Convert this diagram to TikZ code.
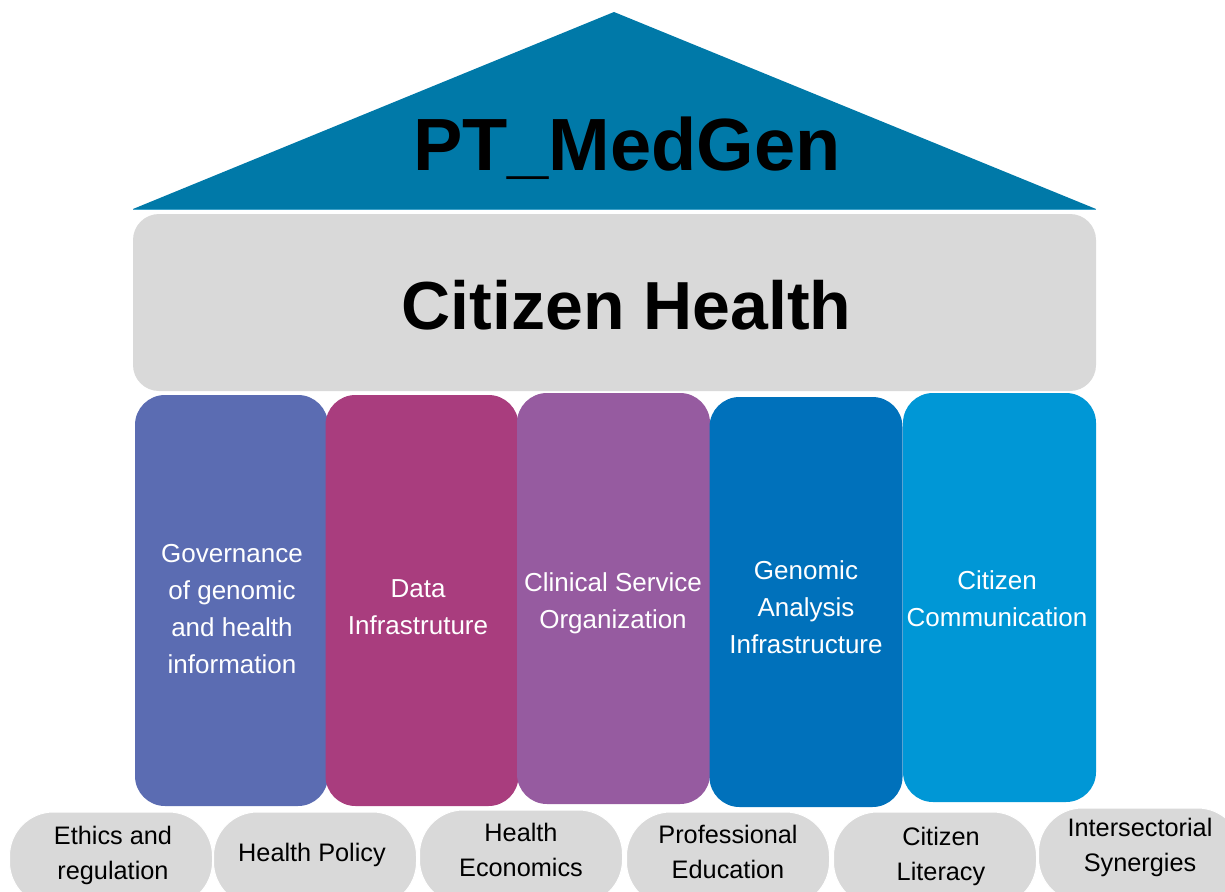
\documentclass[tikz,border=0pt]{standalone}
\usepackage{fontspec}
\setmainfont{Liberation Sans}
\definecolor{roofblue}{RGB}{0,121,168}
\definecolor{roofline}{RGB}{60,160,200}
\definecolor{greybox}{RGB}{217,217,217}
\definecolor{pA}{RGB}{91,108,178}
\definecolor{pB}{RGB}{169,61,126}
\definecolor{pC}{RGB}{150,91,160}
\definecolor{pD}{RGB}{0,113,187}
\definecolor{pE}{RGB}{0,151,214}
\tikzset{
  pillar/.style={rectangle, rounded corners=30pt, inner sep=0pt, draw=none, minimum width=193pt},
  ptext/.style={text=white, align=center, font=\fontsize{26}{37}\selectfont, inner sep=0pt},
  basebox/.style={rectangle, rounded corners=44pt, fill=greybox, draw=white, line width=1pt, inner sep=0pt, minimum width=203pt, minimum height=94pt},
  btext/.style={text=black, align=center, font=\fontsize{25.3}{35}\selectfont, inner sep=0pt},
}
\begin{document}
\begin{tikzpicture}[x=1pt,y=-1pt]
\useasboundingbox (0,0) rectangle (1225,891);
\begin{scope}
\clip (0,0) rectangle (1225,891);
% roof
\coordinate (apex) at (614,12);
\coordinate (bl) at (133,209);
\coordinate (br) at (1096,209);
\fill[roofblue] (apex) -- (br) -- (bl) -- cycle;
\draw[roofline, line width=1pt] (bl) -- (br);
\node[font=\bfseries\fontsize{74}{80}\selectfont, inner sep=0pt] (title) at (627,148) {PT\_MedGen};
% beam
\node[rectangle, rounded corners=26pt, fill=greybox, minimum width=963pt, minimum height=177pt, inner sep=0pt] (beam) at (614.5,302.5) {};
\node[font=\bfseries\fontsize{68}{74}\selectfont, inner sep=0pt] (ch) at (626.5,305) {Citizen Health};
% pillars
\node[pillar, fill=pA, minimum height=411pt] (p1) at (231.5,600.5) {};
\node[pillar, fill=pB, minimum height=411pt] (p2) at (422,600.5) {};
\node[pillar, fill=pC, minimum height=411pt] (p3) at (613.5,598.5) {};
\node[pillar, fill=pD, minimum height=410pt] (p4) at (806,602) {};
\node[pillar, fill=pE, minimum height=409pt] (p5) at (999.5,597.5) {};
\node[ptext] (t1) at (232,609) {Governance\\of genomic\\and health\\information};
\node[ptext] (t2) at (418,607) {Data\\Infrastruture};
\node[ptext] (t3) at (613,603) {Clinical Service\\Organization};
\node[ptext] (t4) at (806,607) {Genomic\\Analysis\\Infrastructure};
\node[ptext] (t5) at (997,599) {Citizen\\Communication};
% foundation
\node[basebox] (b1) at (111,859) {};
\node[basebox] (b2) at (315,859) {};
\node[basebox] (b3) at (521,857) {};
\node[basebox] (b4) at (728,859) {};
\node[basebox] (b5) at (935,859) {};
\node[basebox] (b6) at (1140,855) {};
\node[btext] (bt1) at (113,855) {Ethics and\\regulation};
\node[btext] (bt2) at (312,855) {Health Policy};
\node[btext] (bt3) at (521,850) {Health\\Economics};
\node[btext] (bt4) at (728,852) {Professional\\Education};
\node[btext] (bt5) at (941,856) {Citizen\\Literacy};
\node[btext] (bt6) at (1140,847) {Intersectorial\\Synergies};
\end{scope}
\end{tikzpicture}
\end{document}
